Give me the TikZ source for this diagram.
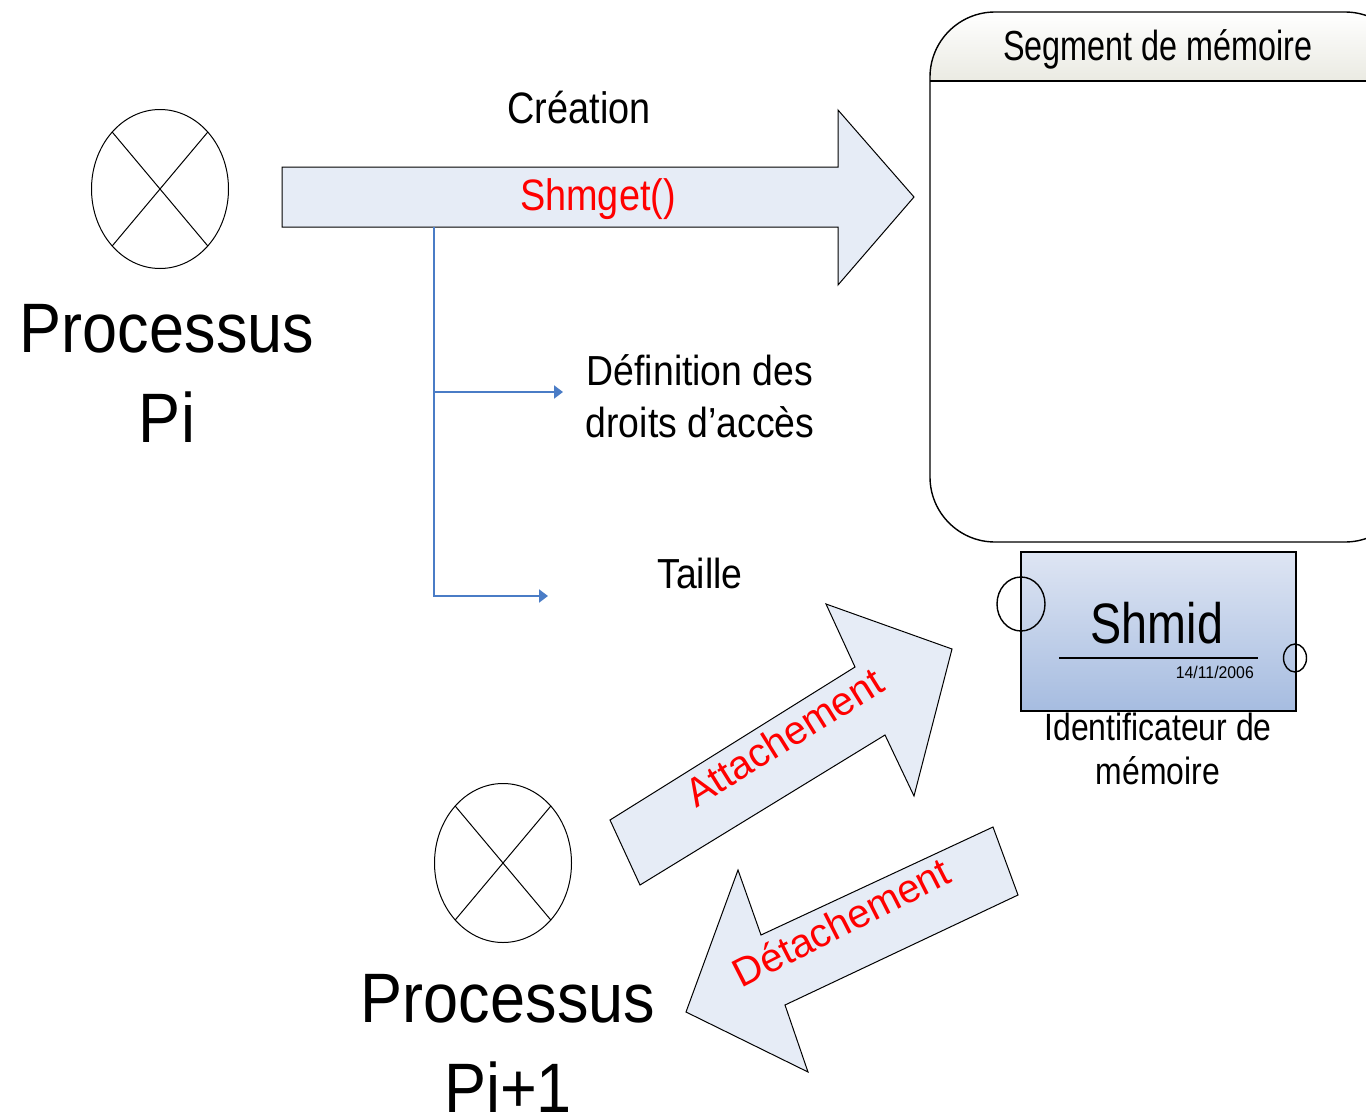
\documentclass[tikz,border=0pt]{standalone}
\usepackage{fontspec}
\setmainfont{Liberation Sans}
\usetikzlibrary{arrows.meta,shapes.geometric}

\definecolor{arrowfill}{RGB}{230,236,246}
\definecolor{linkblue}{RGB}{74,124,198}
\definecolor{idtop}{RGB}{222,229,243}
\definecolor{idbot}{RGB}{166,188,224}
\definecolor{headbot}{RGB}{234,234,226}
\definecolor{callred}{RGB}{255,0,0}

\begin{document}
\begin{tikzpicture}[x=1pt,y=-1pt,
  outline/.style={draw=black,line width=1.4pt},
  bigarrow/.style={draw=black,line width=1pt,fill=arrowfill,line join=miter},
  proc/.style={draw=black,line width=1pt,ellipse,minimum width=137pt,minimum height=159pt,inner sep=0pt},
  cross/.style={draw=black,line width=1pt},
  port/.style={draw=black,line width=1.4pt,ellipse,inner sep=0pt},
  link/.style={draw=linkblue,line width=2pt,-{Triangle[length=9pt,width=13pt]}},
  proclabel/.style={align=center,xscale=0.9,font=\fontsize{70}{90}\selectfont},
  plain/.style={align=center,inner sep=0pt},
  call/.style={text=callred,inner sep=0pt}
]
\useasboundingbox (0,0) rectangle (1366,1119);
\begin{scope}
\clip (0,0) rectangle (1366,1119);

% memory segment: rounded box with a shaded title band
\fill[white,rounded corners=65pt] (930,12) rectangle (1410,542);
\begin{scope}
  \clip[rounded corners=65pt] (930,12) rectangle (1410,542);
  \shade[top color=white,bottom color=headbot] (930,12) rectangle (1410,81);
\end{scope}
\draw[outline,rounded corners=65pt] (930,12) rectangle (1410,542);
\draw[outline] (930,81) -- (1410,81);
\node[plain,anchor=base,xscale=0.77,font=\fontsize{42}{48}\selectfont] (seg) at (1158,60) {Segment de mémoire};

% identifier label sits partly under the identifier box
\node[plain,anchor=base,xscale=0.84,font=\fontsize{38}{44}\selectfont] (idlabel) at (1158,784) {Identificateur de\\mémoire};

% identifier box
\node[outline,top color=idtop,bottom color=idbot,minimum width=275pt,minimum height=159pt,inner sep=0pt] (idbox) at (1158.5,631.5) {};
\node[plain,anchor=base,xscale=0.82,font=\fontsize{57}{66}\selectfont] (shmid) at (1157,643) {Shmid};
\draw[line width=1.4pt] (1059,658) -- (1258,658);
\node[plain,anchor=base east,xscale=0.93,font=\fontsize{17}{20}\selectfont] (date) at (1254,678) {14/11/2006};
\node[port,minimum width=48pt,minimum height=54pt] (portL) at (1021,604) {};
\node[port,minimum width=23pt,minimum height=28pt] (portR) at (1295,658) {};

% process Pi
\node[proc] (pi) at (160,189) {};
\draw[cross] (pi.130) -- (pi.310);
\draw[cross] (pi.50) -- (pi.230);
\node[proclabel,anchor=base] (pilabel) at (167,442) {Processus\\Pi};

% process Pi+1
\node[proc] (pj) at (503,863) {};
\draw[cross] (pj.130) -- (pj.310);
\draw[cross] (pj.50) -- (pj.230);
\node[proclabel,anchor=base] (pjlabel) at (508,1112) {Processus\\Pi+1};

% creation arrow
\draw[bigarrow] (282,167) -- (838,167) -- (838,110) -- (914,197) -- (838,285) -- (838,227) -- (282,227) -- cycle;
\node[plain,anchor=base,xscale=0.86,font=\fontsize{44}{50}\selectfont] (creation) at (579,123) {Création};
\node[call,anchor=base,xscale=0.86,font=\fontsize{44}{50}\selectfont] (shmget) at (598,210) {Shmget()};

% branches of the creation call
\coordinate (fork) at (434,227);
\coordinate (toDroits) at (563,392);
\coordinate (toTaille) at (548,596);
\draw[link] (fork) |- (toTaille);
\draw[link] (fork |- toDroits) -- (toDroits);
\node[plain,anchor=base,xscale=0.89,font=\fontsize{42}{52}\selectfont] (droits) at (700,437) {Définition des\\droits d’accès};
\node[plain,anchor=base,xscale=0.89,font=\fontsize{42}{52}\selectfont] (taille) at (700,588) {Taille};

% attach and detach arrows
\draw[bigarrow] (610,820) -- (640,885) -- (885,735) -- (914,796) -- (952,649) -- (826,604) -- (855,667) -- cycle;
\node[call,rotate=32,font=\fontsize{40}{46}\selectfont] (attach) at (784,737) {Attachement};
\draw[bigarrow] (993,827) -- (1018,895) -- (785,1005) -- (808,1072) -- (686,1012) -- (738,870) -- (761,935) -- cycle;
\node[call,rotate=27,font=\fontsize{40}{46}\selectfont] (detach) at (841,922) {Détachement};
\end{scope}
\end{tikzpicture}
\end{document}
